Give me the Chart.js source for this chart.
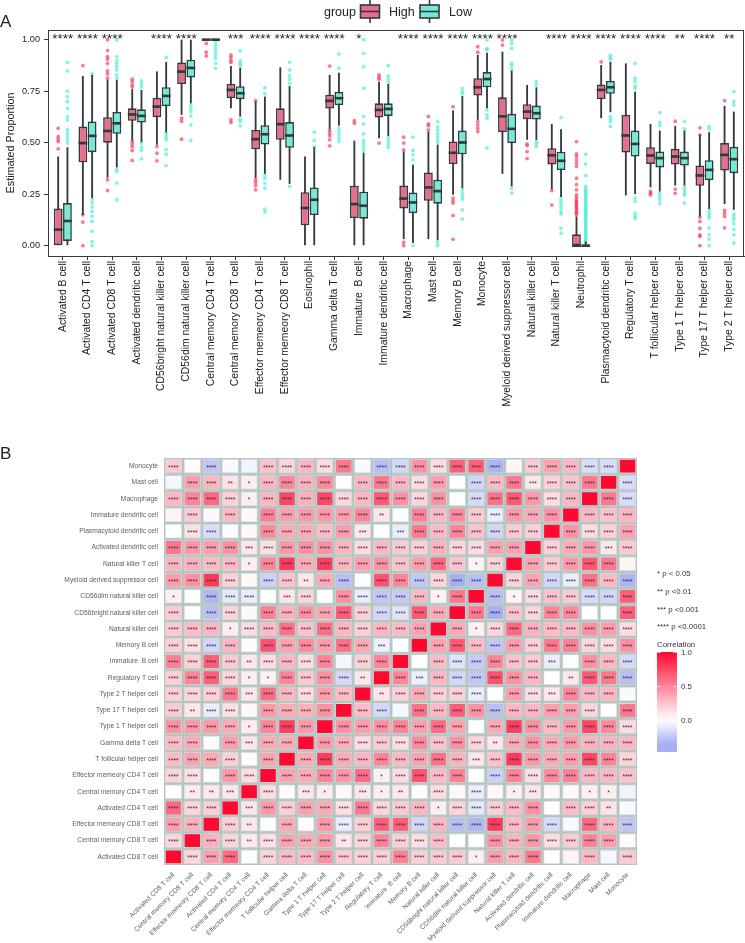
<!DOCTYPE html>
<html lang="en">
<head>
  <meta charset="UTF-8" />
  <title>Immune cell proportions</title>
  <script src="https://cdn.jsdelivr.net/npm/chart.js"></script>
  <style>
    html, body { margin: 0; padding: 0; background: #fff; }
    canvas { position: absolute; left: 0; display: block; }
    #boxChart { top: 0; }
    #heatChart { top: 440px; }
  </style>
</head>
<body>
  <canvas id="boxChart" width="745" height="440"></canvas>
  <canvas id="heatChart" width="745" height="503"></canvas>

  <script>
    // ---- panel A values ----
    const cellTypes = ['Activated B cell', 'Activated CD4 T cell', 'Activated CD8 T cell', 'Activated dendritic cell',
      'CD56bright natural killer cell', 'CD56dim natural killer cell', 'Central memory CD4 T cell', 'Central memory CD8 T cell',
      'Effector memeory CD4 T cell', 'Effector memeory CD8 T cell', 'Eosinophil', 'Gamma delta T cell', 'Immature  B cell',
      'Immature dendritic cell', 'Macrophage', 'Mast cell', 'Memory B cell', 'Monocyte', 'Myeloid derived suppressor cell',
      'Natural killer cell', 'Natural killer T cell', 'Neutrophil', 'Plasmacytoid dendritic cell', 'Regulatory T cell',
      'T follicular helper cell', 'Type 1 T helper cell', 'Type 17 T helper cell', 'Type 2 T helper cell'];
    const yTicks = [0, 0.25, 0.5, 0.75, 1];
    const boxSignif = ['****', '****', '****', '', '****', '****', '', '***', '****', '****', '****', '****', '*', '',
      '****', '****', '****', '****', '****', '', '****', '****', '****', '****', '****', '**', '****', '**'];

    const highLow = [0, .15, .33, .51, .49, .635, .995, .667, .328, .32, 0, .565, 0, .522, .032, .032, .247, .611, .349, .514, .275, 0, .619, .244, .283, .292, .142, .202];
    const highQ1 = [0, .405, .5, .606, .624, .785, .997, .716, .468, .514, .099, .666, .134, .622, .181, .218, .396, .729, .551, .614, .394, 0, .712, .452, .397, .394, .291, .365];
    const highMed = [.078, .498, .557, .637, .675, .845, 1, .756, .517, .59, .183, .703, .202, .659, .229, .283, .451, .769, .628, .651, .439, 0, .756, .535, .438, .433, .341, .441];
    const highQ3 = [.18, .578, .624, .667, .717, .889, 1, .785, .562, .667, .26, .733, .291, .691, .292, .355, .506, .813, .72, .687, .473, .055, .782, .635, .478, .47, .389, .498];
    const highHigh = [.433, .824, .805, .76, .846, 1, 1, .872, .7, .866, .433, .829, .51, .796, .457, .554, .656, .926, .942, .78, .591, .142, .877, .885, .591, .582, .538, .679];

    const lowLow = [0, .231, .38, .502, .549, .691, .995, .627, .349, .3, 0, .582, 0, .533, .013, .026, .279, .667, .288, .514, .236, 0, .648, .25, .263, .292, .178, .174];
    const lowQ1 = [.023, .454, .543, .598, .678, .817, .997, .711, .491, .475, .149, .682, .131, .63, .158, .204, .444, .769, .498, .612, .367, 0, .737, .433, .38, .389, .318, .352];
    const lowMed = [.12, .533, .594, .63, .727, .863, 1, .74, .541, .535, .223, .716, .194, .664, .21, .265, .501, .809, .567, .643, .412, 0, .769, .494, .425, .425, .368, .42];
    const lowQ3 = [.207, .603, .649, .662, .769, .903, 1, .774, .585, .6, .283, .746, .262, .691, .258, .32, .559, .843, .64, .68, .456, .002, .8, .559, .457, .457, .415, .48];
    const lowHigh = [.478, .829, .805, .756, .892, 1, 1, .864, .724, .775, .478, .84, .452, .785, .393, .49, .727, .937, .85, .769, .565, .02, .893, .748, .559, .559, .551, .651];

    const highOutliers = [
      [.57, .53, .517, .505, .47],
      [.874, .15, .115, 0],
      [1, .947, .918, .905, .885, .848, .834, .813, .32, .268],
      [.808, .796, .78, .77, .506, .494, .481, .462, .414],
      [.481, .449, .412],
      [.619, .603, .517],
      [.982, .939, .921],
      [.926, .914, .9, .89, .611, .598],
      [.704, .32, .307, .291, .271],
      [],
      [],
      [.872, .559, .546, .533, .514, .485],
      [.607, .594],
      [.829, .817, .808, .498],
      [.527, .498, .465, .016, 0],
      [.627, .591, .582, .562],
      [.675, .231, .218, .207, .147, .031],
      [.966, .939, .603, .586, .57, .554],
      [.998, .974],
      [.494, .486, .457, .423],
      [.268, .197],
      [.505, .446, .433, .417, .401, .385, .328, .296, .271, .247, .235, .223, .215, .207, .199, .191, .183, .174, .166, .158, .15],
      [.892],
      [],
      [.263, .255, .246],
      [.604, .275, .254],
      [.572, .538, .139, .118, .084, .053, .045, 0],
      [.704, .171, .158, .142, .087]
    ];
    const lowOutliers = [
      [.89, .848, .75, .723, .7, .667, .627, .61, .562, .546, .53, .514, .498],
      [.834, .223, .207, .187, .166, .142, .118, .07, .02, 0],
      [1, .918, .9, .885, .869, .853, .829, .813, .372, .36, .304, .223],
      [.8, .785, .769, .498, .478, .462, .422],
      [.914, .541, .527, .514, .468, .444, .389],
      [.683, .667, .651, .63, .586, .51],
      [.99, .974, .958, .942, .926, .91, .885, .861],
      [.945, .897, .885, .874, .614, .603, .582],
      [.767, .737, .344, .328, .304, .279, .178, .163],
      [.89, .853, .824, .808, .788, .288],
      [.551, .51, .481],
      [.93, .861, .57, .554, .538, .522, .506],
      [1, .934, .869, .764, .627, .591, .543, .51, .494, .478, .462],
      [.874, .824, .808, .792, .527, .51, .494, .478],
      [.527, .462, .441, .417, 0],
      [.603, .575, .559, .543, .527, .51, .498, .016, 0],
      [.764, .748, .737, .271, .255, .239, .226, .174, .129],
      [.998, .958, .95, .659, .635, .619, .473],
      [.998, .982, .958, .885, .874, .856, .279, .255],
      [.796, .78, .506, .494, .481],
      [.622, .231, .215, .199, .183, .166, .155, .084, .061],
      [.444, .397, .341, .288, .277, .268, .26, .252, .244, .236, .228, .22, .212, .204, .196, .188, .18, .172, .164, .156, .148, .14, .132, .124, .116, .108, .1, .092, .084, .076, .068, .06, .052, .044, .036, .028, .02, .012],
      [.925, .914, .905, .627, .614, .601, .578],
      [.885, .813, .796, .775, .764, .231, .215, .158, .142, .132],
      [.646, .598, .582, .255, .239, .223, .204],
      [.603, .567, .284, .271, .258, .246, .207],
      [.578, .565, .171, .158, .145, .134, .086, .053, .032, 0],
      [.748, .7, .683, .153, .139, .126, .107, .078, .053, .013]
    ];

    // ---- panel B values: lower triangle, row i holds columns 0..i ----
    const heatCells = ['Activated CD8 T cell', 'Central memory CD8 T cell', 'Effector memeory CD8 T cell', 'Activated CD4 T cell',
      'Central memory CD4 T cell', 'Effector memeory CD4 T cell', 'T follicular helper cell', 'Gamma delta T cell',
      'Type 1 T helper cell', 'Type 17 T helper cell', 'Type 2 T helper cell', 'Regulatory T cell', 'Immature  B cell',
      'Memory B cell', 'Natural killer cell', 'CD56bright natural killer cell', 'CD56dim natural killer cell',
      'Myeloid derived suppressor cell', 'Natural killer T cell', 'Activated dendritic cell', 'Plasmacytoid dendritic cell',
      'Immature dendritic cell', 'Macrophage', 'Mast cell', 'Monocyte'];
    const corrRows = [
      [1],
      [.17, 1],
      [.4, .32, 1],
      [.62, .17, .2, 1],
      [0, .08, .1, .1, 1],
      [.18, .13, -.01, .42, .14, 1],
      [.28, .38, .35, .2, .02, .38, 1],
      [.28, .35, .02, .4, .1, .35, .35, 1],
      [.45, .42, .42, .35, .08, .5, .78, .42, 1],
      [.22, .1, -.08, .13, .03, .42, .35, .32, .45, 1],
      [.2, .18, .2, .55, .1, .6, .3, .15, .4, .28, 1],
      [.2, .5, .65, .17, .07, .06, .5, .22, .45, -.17, .1, 1],
      [.52, .2, .65, .22, .1, .15, .3, .14, .5, -.04, .2, .5, 1],
      [.2, .13, -.18, .3, .02, .7, .38, .48, .4, .58, .35, -.07, 0, 1],
      [.22, .28, .3, .07, .14, .28, .58, .25, .6, .3, .2, .3, .28, .38, 1],
      [.22, 0, -.28, .18, .03, .52, .32, .45, .38, .65, .2, -.18, -.12, .68, .35, 1],
      [.07, 0, -.32, -.1, -.08, 0, .1, .18, 0, .45, -.08, -.25, -.23, .28, .06, .55, 1],
      [.4, .45, .8, .2, .03, -.2, .25, .1, .35, -.28, 0, .7, .5, -.25, .17, -.35, -.28, 1],
      [.3, .32, .28, .28, .07, .5, .8, .35, .78, .3, .4, .45, .25, .4, .62, .25, .05, .18, 1],
      [.55, .42, .4, .45, .1, .13, .42, .45, .45, .3, .15, .3, .22, .2, .32, .17, .15, .38, .38, 1],
      [0, .13, -.15, -.01, .03, .48, .35, .35, .28, .4, .1, 0, -.08, .55, .28, .5, .25, -.18, .22, .2, 1],
      [.05, .22, -.02, .28, .03, .52, .4, .42, .42, .4, .5, .1, -.01, .52, .28, .48, .22, -.08, .42, .35, .45, 1],
      [.3, .5, .62, .2, .07, .3, .75, .32, .75, .17, .3, .68, .45, .17, .45, 0, -.16, .58, .68, .42, .15, .3, 1],
      [-.04, .4, .3, .12, .07, .3, .5, .32, .48, 0, .3, .55, .3, .14, .4, 0, -.18, .28, .55, .1, .2, .25, .55, 1],
      [.22, .02, -.25, -.02, -.05, .25, .18, .3, .15, .55, -.02, -.28, -.17, .45, .15, .65, .65, -.33, .04, .22, .38, .3, -.15, -.15, 1]
    ];
    const starRows = [
      [0],
      [4, 0],
      [4, 4, 0],
      [4, 4, 4, 0],
      [0, 2, 2, 3, 0],
      [4, 4, 0, 4, 4, 0],
      [4, 4, 4, 4, 0, 4, 0],
      [4, 4, 0, 4, 3, 4, 4, 0],
      [4, 4, 4, 4, 1, 4, 4, 4, 0],
      [4, 2, 4, 4, 0, 4, 4, 4, 4, 0],
      [4, 4, 4, 4, 3, 4, 4, 4, 4, 4, 0],
      [4, 4, 4, 4, 1, 1, 4, 4, 4, 4, 2, 0],
      [4, 4, 4, 4, 2, 4, 4, 4, 4, 0, 4, 4, 0],
      [4, 4, 4, 4, 0, 4, 4, 4, 4, 4, 4, 3, 0, 0],
      [4, 4, 4, 1, 4, 4, 4, 4, 4, 4, 4, 4, 4, 4, 0],
      [4, 0, 4, 4, 0, 4, 4, 4, 4, 4, 4, 4, 4, 4, 4, 0],
      [1, 0, 4, 4, 4, 0, 3, 4, 0, 4, 4, 4, 4, 4, 1, 4, 0],
      [4, 4, 4, 4, 0, 4, 4, 2, 4, 4, 0, 4, 4, 4, 4, 4, 4, 0],
      [4, 4, 4, 4, 1, 4, 4, 4, 4, 4, 4, 4, 4, 4, 4, 4, 1, 4, 0],
      [4, 4, 4, 4, 3, 4, 4, 4, 4, 4, 4, 4, 4, 4, 4, 4, 4, 4, 4, 0],
      [0, 4, 4, 0, 0, 4, 4, 4, 4, 4, 3, 0, 3, 4, 4, 4, 4, 4, 4, 4, 0],
      [0, 4, 0, 4, 0, 4, 4, 4, 4, 4, 4, 2, 0, 4, 4, 4, 4, 4, 4, 4, 4, 0],
      [4, 4, 4, 4, 1, 4, 4, 4, 4, 4, 4, 4, 4, 4, 4, 0, 4, 4, 4, 4, 4, 4, 0],
      [0, 4, 4, 2, 1, 4, 4, 4, 4, 0, 4, 4, 4, 4, 4, 0, 4, 4, 4, 3, 4, 4, 4, 0],
      [4, 0, 4, 0, 0, 4, 4, 4, 4, 4, 0, 4, 4, 4, 4, 4, 4, 4, 0, 4, 4, 4, 4, 4, 0]
    ];
    const pLegend = ['* p < 0.05', '** p <0.01', '*** p <0.001', '**** p <0.0001'];
    const colorbarTicks = [1, 0.5, 0];

    // ---- styling ----
    const FONT = '"Liberation Sans", Arial, sans-serif';
    const DARK = '#333a3a';
    const HIGH_FILL = '#e96d8c';
    const LOW_FILL = '#74ebd9';
    const HIGH_DOT = 'rgba(248, 40, 80, 0.62)';
    const LOW_DOT = 'rgba(60, 235, 210, 0.62)';
    const HEAT_BG = '#b5c6c2';
    const DODGE = 0.1875;

    function mix(a, b, t) {
      return a.map((v, i) => Math.round(v + (b[i] - v) * t));
    }
    function corrColor(r) {
      const c = r >= 0
        ? mix([255, 255, 255], [255, 8, 50], Math.min(r, 1))
        : mix([255, 255, 255], [166, 172, 245], Math.min(-r / 0.36, 1));
      return `rgb(${c[0]}, ${c[1]}, ${c[2]})`;
    }
    function corrAt(a, b) { return a >= b ? corrRows[a][b] : corrRows[b][a]; }
    function starsAt(a, b) { return a >= b ? starRows[a][b] : starRows[b][a]; }

    // ---- panel A ----
    function rangeData(lo, hi) { return cellTypes.map((_, i) => ({ x: i, y: [lo[i], hi[i]] })); }
    function medianData(med) { return cellTypes.map((_, i) => ({ x: i, y: [med[i] - 0.0065, med[i] + 0.0065] })); }
    function outlierData(list, shift) {
      const pts = [];
      list.forEach((vals, i) => vals.forEach(v => pts.push({ x: i + shift, y: v })));
      return pts;
    }
    function noScalePadding(s) {
      s.paddingLeft = 0; s.paddingRight = 0; s.paddingTop = 0; s.paddingBottom = 0;
    }

    const boxExtras = {
      id: 'boxExtras',
      afterDraw(chart) {
        const { ctx, chartArea: a, scales } = chart;
        ctx.save();
        ctx.strokeStyle = DARK;
        ctx.lineWidth = 1;
        ctx.strokeRect(a.left + 0.5, a.top + 0.5, a.right - a.left - 1, a.bottom - a.top);

        ctx.fillStyle = '#222';
        ctx.font = `13.5px ${FONT}`;
        ctx.textAlign = 'center';
        ctx.textBaseline = 'alphabetic';
        boxSignif.forEach((s, i) => {
          if (s) ctx.fillText(s, scales.x.getPixelForValue(i), 43);
        });

        ctx.textAlign = 'left';
        ctx.textBaseline = 'middle';
        ctx.font = `17px ${FONT}`;
        ctx.fillText('A', 0, 22);

        ctx.font = `12.5px ${FONT}`;
        ctx.fillStyle = '#222';
        ctx.fillText('group', 324, 13);
        ctx.fillText('High', 389, 13);
        ctx.fillText('Low', 449, 13);
        drawLegendKey(ctx, 360.5, HIGH_FILL);
        drawLegendKey(ctx, 420, LOW_FILL);
        ctx.restore();
      }
    };
    function drawLegendKey(ctx, x, fill) {
      ctx.strokeStyle = DARK;
      ctx.lineWidth = 1.6;
      ctx.beginPath();
      ctx.moveTo(x + 9.5, 0); ctx.lineTo(x + 9.5, 23);
      ctx.stroke();
      ctx.fillStyle = fill;
      ctx.fillRect(x, 5, 19, 13);
      ctx.strokeRect(x, 5, 19, 13);
      ctx.beginPath();
      ctx.moveTo(x, 11.5); ctx.lineTo(x + 19, 11.5);
      ctx.stroke();
    }

    const barShared = { type: 'bar', categoryPercentage: 0.75 };
    new Chart(document.getElementById('boxChart'), {
      data: {
        datasets: [
          { ...barShared, stack: 'High', order: 1, data: medianData(highMed), backgroundColor: DARK, barPercentage: 0.95 },
          { ...barShared, stack: 'Low', order: 1, data: medianData(lowMed), backgroundColor: DARK, barPercentage: 0.95 },
          { ...barShared, stack: 'High', order: 2, data: rangeData(highQ1, highQ3), backgroundColor: HIGH_FILL, borderColor: DARK, borderWidth: 1.6, borderSkipped: false, barPercentage: 0.95 },
          { ...barShared, stack: 'Low', order: 2, data: rangeData(lowQ1, lowQ3), backgroundColor: LOW_FILL, borderColor: DARK, borderWidth: 1.6, borderSkipped: false, barPercentage: 0.95 },
          { ...barShared, stack: 'High', order: 3, data: rangeData(highLow, highHigh), backgroundColor: DARK, barPercentage: 0.2 },
          { ...barShared, stack: 'Low', order: 3, data: rangeData(lowLow, lowHigh), backgroundColor: DARK, barPercentage: 0.2 },
          { type: 'scatter', order: 4, data: outlierData(highOutliers, -DODGE), backgroundColor: HIGH_DOT, pointRadius: 1.9, pointBorderWidth: 0 },
          { type: 'scatter', order: 4, data: outlierData(lowOutliers, DODGE), backgroundColor: LOW_DOT, pointRadius: 1.9, pointBorderWidth: 0 }
        ]
      },
      options: {
        responsive: false,
        animation: false,
        layout: { autoPadding: false, padding: { top: 30, right: 1, left: 0, bottom: 0 } },
        plugins: { legend: { display: false }, tooltip: { enabled: false } },
        scales: {
          x: {
            type: 'linear',
            stacked: true,
            offset: false,
            min: -0.6,
            max: 27.6,
            grid: { drawOnChartArea: false, offset: false, color: DARK, tickLength: 4 },
            border: { color: DARK },
            afterBuildTicks: s => { s.ticks = cellTypes.map((_, i) => ({ value: i })); },
            afterFit: s => { s.height = 184; noScalePadding(s); },
            ticks: {
              autoSkip: false,
              minRotation: 90,
              maxRotation: 90,
              padding: 1,
              color: '#222',
              font: { family: FONT, size: 10.4 },
              callback: v => cellTypes[v]
            }
          },
          y: {
            stacked: false,
            min: -0.05,
            max: 1.047,
            grid: { drawOnChartArea: false, color: DARK, tickLength: 4 },
            border: { color: DARK },
            afterBuildTicks: s => { s.ticks = yTicks.map(v => ({ value: v })); },
            afterFit: s => { s.width = 48; noScalePadding(s); },
            title: { display: true, text: 'Estimated Proportion', color: '#222', padding: { top: 5, bottom: 0 }, font: { family: FONT, size: 10.8 } },
            ticks: {
              padding: 4,
              color: '#222',
              font: { family: FONT, size: 9.2 },
              callback: v => v.toFixed(2)
            }
          }
        }
      },
      plugins: [boxExtras]
    });

    // ---- panel B ----
    const heatDatasets = heatCells.map((_, row) => ({
      data: heatCells.map(() => [row + 0.055, row + 0.945]),
      backgroundColor: heatCells.map((_, col) => corrColor(corrAt(row, col))),
      borderColor: 'rgba(240, 244, 243, 0.55)',
      borderWidth: 0.8,
      borderSkipped: false
    }));

    const heatExtras = {
      id: 'heatExtras',
      beforeDatasetsDraw(chart) {
        const { ctx, chartArea: a } = chart;
        ctx.save();
        ctx.fillStyle = HEAT_BG;
        ctx.fillRect(a.left, a.top, a.right - a.left, a.bottom - a.top);
        ctx.restore();
      },
      afterDraw(chart) {
        const { ctx, scales } = chart;
        ctx.save();
        ctx.fillStyle = '#333';
        ctx.font = `6.6px ${FONT}`;
        ctx.textAlign = 'center';
        ctx.textBaseline = 'alphabetic';
        heatCells.forEach((_, row) => heatCells.forEach((_, col) => {
          const n = starsAt(row, col);
          if (n) ctx.fillText('*'.repeat(n), scales.x.getPixelForValue(col), scales.y.getPixelForValue(row + 0.5) + 3.4);
        }));

        ctx.textAlign = 'left';
        ctx.textBaseline = 'middle';
        ctx.fillStyle = '#222';
        ctx.font = `17px ${FONT}`;
        ctx.fillText('B', 0, 14);

        ctx.fillStyle = '#333';
        ctx.font = `7.8px ${FONT}`;
        pLegend.forEach((s, i) => ctx.fillText(s, 657, 134 + i * 17.7));
        ctx.fillText('Correlation', 657, 205);

        // colour key
        const barTop = 212, zero = 280.5, unit = 68, barBottom = 312;
        const grad = ctx.createLinearGradient(0, barTop, 0, barBottom);
        for (let k = 0; k <= 20; k++) {
          const r = 1 - k / 20 * (barBottom - barTop) / unit;
          grad.addColorStop(k / 20, corrColor(r));
        }
        ctx.fillStyle = grad;
        ctx.fillRect(657, barTop, 20, barBottom - barTop);
        ctx.font = `7.8px ${FONT}`;
        colorbarTicks.forEach(t => {
          const y = zero - t * unit;
          ctx.strokeStyle = '#fff';
          ctx.lineWidth = 0.6;
          ctx.beginPath();
          ctx.moveTo(657, y); ctx.lineTo(661, y);
          ctx.moveTo(673, y); ctx.lineTo(677, y);
          ctx.stroke();
          ctx.fillStyle = '#333';
          ctx.fillText(t.toFixed(1), 681, y);
        });
        ctx.restore();
      }
    };

    new Chart(document.getElementById('heatChart'), {
      type: 'bar',
      data: { labels: heatCells, datasets: heatDatasets },
      options: {
        responsive: false,
        animation: false,
        grouped: false,
        barPercentage: 0.9,
        categoryPercentage: 1,
        layout: { autoPadding: false, padding: { top: 18, right: 108, left: 0, bottom: 0 } },
        plugins: { legend: { display: false }, tooltip: { enabled: false } },
        scales: {
          x: {
            grid: { display: false, drawTicks: false },
            border: { display: false },
            afterFit: s => { s.height = 78; noScalePadding(s); },
            ticks: {
              autoSkip: false,
              minRotation: 45,
              maxRotation: 45,
              padding: 6,
              color: '#5a6166',
              font: { family: FONT, size: 6.7 }
            }
          },
          y: {
            min: 0,
            max: heatCells.length,
            grid: { display: false, drawTicks: false },
            border: { display: false },
            afterBuildTicks: s => { s.ticks = heatCells.map((_, i) => ({ value: i + 0.5 })); },
            afterFit: s => { s.width = 164; noScalePadding(s); },
            ticks: {
              autoSkip: false,
              padding: 6,
              color: '#5a6166',
              font: { family: FONT, size: 6.7 },
              callback: v => heatCells[v - 0.5]
            }
          }
        }
      },
      plugins: [heatExtras]
    });
  </script>
</body>
</html>
